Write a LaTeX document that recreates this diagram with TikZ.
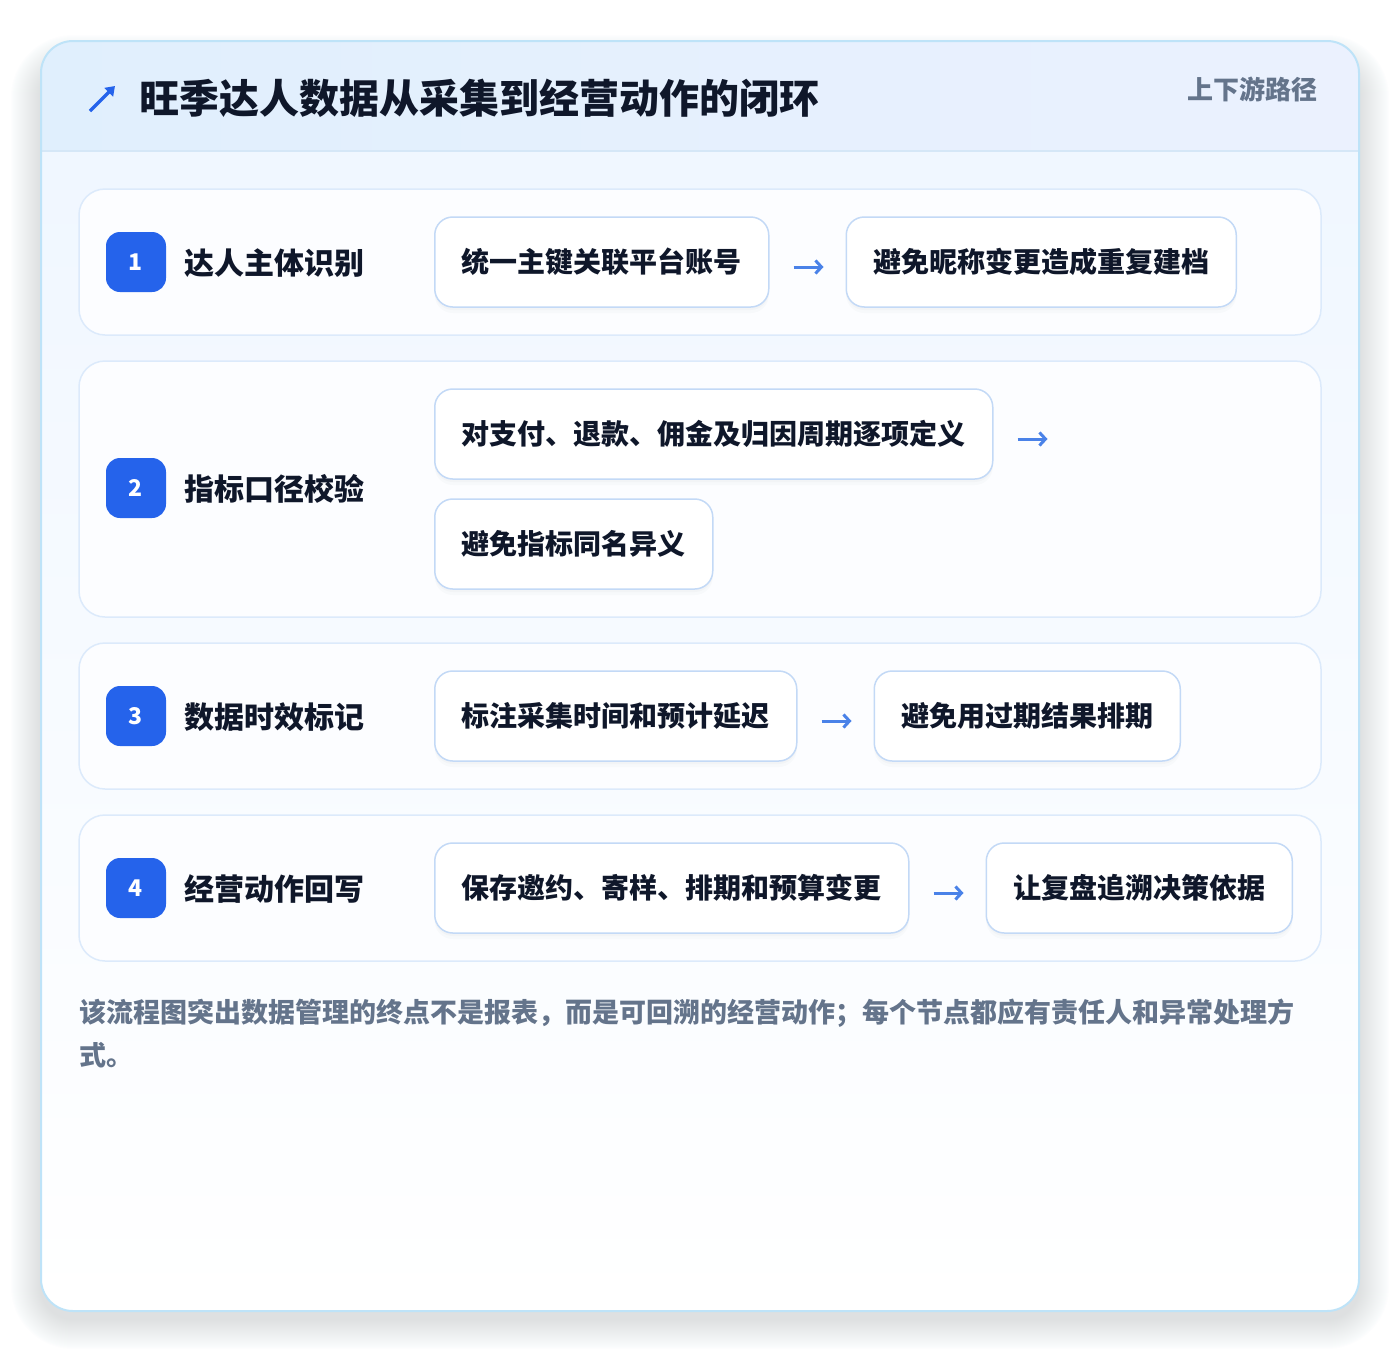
\documentclass[tikz,border=0pt]{standalone}
\usepackage{fontspec}
\setmainfont{Noto Sans CJK SC}
\usetikzlibrary{arrows.meta}
\definecolor{cardborder}{HTML}{BEE3F8}
\definecolor{headL}{HTML}{E0EFFD}
\definecolor{headR}{HTML}{EBF1FE}
\definecolor{headline}{HTML}{D5E7F7}
\definecolor{bodytop}{HTML}{F0F7FF}
\definecolor{rowborder}{HTML}{DCEAFB}
\definecolor{rowfill}{HTML}{FCFDFF}
\definecolor{stepborder}{HTML}{C3D9F6}
\definecolor{badgeblue}{HTML}{2563EB}
\definecolor{arrowblue}{HTML}{4A82E8}
\definecolor{textdark}{HTML}{0F172A}
\definecolor{textgray}{HTML}{64748B}
\definecolor{shadowc}{HTML}{7A7F88}
\begin{document}
\begin{tikzpicture}[x=1pt,y=-1pt,
  rowbox/.style={draw=rowborder,line width=1.5pt,fill=rowfill,rounded corners=26pt},
  badge/.style={fill=badgeblue,rounded corners=14pt,minimum size=60pt,inner sep=0pt,text=white,font=\fontsize{23pt}{26pt}\selectfont\bfseries},
  lbl/.style={anchor=west,inner sep=0pt,text=textdark,font=\fontsize{30pt}{34pt}\selectfont\bfseries},
  stepbox/.style={anchor=west,draw=stepborder,line width=1.5pt,fill=white,rounded corners=18pt,minimum height=90pt,inner xsep=27pt,inner ysep=0pt,text=textdark,font=\fontsize{28pt}{32pt}\selectfont\bfseries,
    preaction={draw=none,fill=shadowc,fill opacity=0.03,transform canvas={yshift=-6pt}},
    preaction={draw=none,fill=shadowc,fill opacity=0.035,transform canvas={yshift=-3pt}}},
  flow/.style={arrowblue,line width=3pt,-{Straight Barb[length=6pt,width=13pt]}},
  note/.style={anchor=west,inner sep=0pt,text=textgray,font=\fontsize{27pt}{32pt}\selectfont\bfseries}
]
\useasboundingbox (0,0) rectangle (1400,1352);
\fill[white] (0,0) rectangle (1400,1352);
% card shadow (stacked soft layers, offset downward)
\foreach \i in {1,...,30}{
  \fill[shadowc,fill opacity=0.0075,rounded corners={32pt+\i pt}] (41-\i,41-\i+24) rectangle (1359+\i,1311+\i+8);
}
\fill[white,rounded corners=32pt] (41,41) rectangle (1359,1311);
\begin{scope}
  \clip[rounded corners=32pt] (41,41) rectangle (1359,1311);
  \shade[top color=bodytop,bottom color=white] (41,151) rectangle (1359,1311);
  \shade[left color=headL,right color=headR] (41,41) rectangle (1359,151);
  \draw[headline,line width=1.5pt] (41,151) -- (1359,151);
\end{scope}
\draw[cardborder,line width=2pt,rounded corners=32pt] (41,41) rectangle (1359,1311);
% header
\draw[badgeblue,line width=3.5pt,-{Triangle[length=9pt,width=12pt]}] (90,111) -- (115,86);
\node[anchor=west,inner sep=0pt,text=textdark,font=\fontsize{40pt}{44pt}\selectfont\bfseries] (title) at (139,98) {旺季达人数据从采集到经营动作的闭环};
\node[anchor=east,inner sep=0pt,text=textgray,font=\fontsize{26pt}{30pt}\selectfont\bfseries] (tag) at (1318,89) {上下游路径};
% row 1
\draw[rowbox] (79,189) rectangle (1321,335);
\node[badge] (b1) at (136,262) {1};
\node[lbl] (l1) at (184,263) {达人主体识别};
\node[stepbox] (s1a) at (434,262) {统一主键关联平台账号};
\node[stepbox] (s1b) at ([xshift=76pt]s1a.east) {避免昵称变更造成重复建档};
\draw[flow,shorten <=24pt,shorten >=22pt] ([yshift=-5pt]s1a.east) -- ([yshift=-5pt]s1b.west);
% row 2
\draw[rowbox] (79,361) rectangle (1321,617);
\node[badge] (b2) at (136,488) {2};
\node[lbl] (l2) at (184,489) {指标口径校验};
\node[stepbox] (s2a) at (434,434) {对支付、退款、佣金及归因周期逐项定义};
\node[stepbox] (s2b) at (434,544) {避免指标同名异义};
\coordinate (s2e) at ([xshift=54pt,yshift=-5pt]s2a.east);
\draw[flow,shorten <=24pt] ([yshift=-5pt]s2a.east) -- (s2e);
% row 3
\draw[rowbox] (79,643) rectangle (1321,789);
\node[badge] (b3) at (136,716) {3};
\node[lbl] (l3) at (184,717) {数据时效标记};
\node[stepbox] (s3a) at (434,716) {标注采集时间和预计延迟};
\node[stepbox] (s3b) at ([xshift=76pt]s3a.east) {避免用过期结果排期};
\draw[flow,shorten <=24pt,shorten >=22pt] ([yshift=-5pt]s3a.east) -- ([yshift=-5pt]s3b.west);
% row 4
\draw[rowbox] (79,815) rectangle (1321,961);
\node[badge] (b4) at (136,888) {4};
\node[lbl] (l4) at (184,889) {经营动作回写};
\node[stepbox] (s4a) at (434,888) {保存邀约、寄样、排期和预算变更};
\node[stepbox] (s4b) at ([xshift=76pt]s4a.east) {让复盘追溯决策依据};
\draw[flow,shorten <=24pt,shorten >=22pt] ([yshift=-5pt]s4a.east) -- ([yshift=-5pt]s4b.west);
% footer note
\node[note] (n1) at (79,1013) {该流程图突出数据管理的终点不是报表，而是可回溯的经营动作；每个节点都应有责任人和异常处理方};
\node[note] (n2) at (79,1055) {式。};
\end{tikzpicture}
\end{document}
